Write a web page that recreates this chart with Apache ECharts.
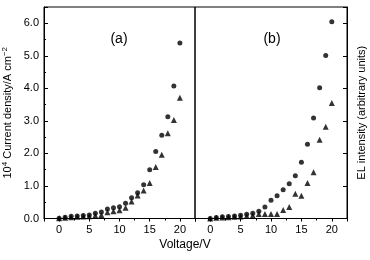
<!DOCTYPE html>
<html><head><meta charset="utf-8">
<script src="https://cdn.jsdelivr.net/npm/echarts@6/dist/echarts.min.js"></script>
<style>html,body{margin:0;padding:0;background:#fff}#c{width:370px;height:260px}</style>
</head><body><div id="c"></div>
<script>
const voltage = [0,1,2,3,4,5,6,7,8,9,10,11,12,13,14,15,16,17,18,19,20];
const aCircles = [0.01,0.04,0.07,0.08,0.09,0.11,0.16,0.20,0.29,0.33,0.36,0.47,0.64,0.79,1.04,1.50,2.06,2.56,3.13,4.07,5.39];
const aTriangles = [0.01,0.02,0.04,0.05,0.06,0.07,0.09,0.11,0.19,0.22,0.25,0.33,0.52,0.71,0.86,1.09,1.58,1.96,2.62,3.03,3.71];
const bCircles = [0.00,0.03,0.05,0.06,0.08,0.10,0.13,0.16,0.22,0.35,0.56,0.70,0.88,1.07,1.31,1.73,2.28,3.09,4.02,5.01,6.05];
const bTriangles = [0.00,0.02,0.03,0.04,0.05,0.06,0.08,0.09,0.14,0.14,0.14,0.14,0.26,0.35,0.76,0.70,1.09,1.42,2.42,2.82,3.55];
const xTickValues = [0,5,10,15,20];
const yTickValues = [0,1,2,3,4,5,6];

const FONT = 'Liberation Sans';
const pairs = ys => voltage.map((v,i)=>[v, ys[i]]);
const chart = echarts.init(document.getElementById('c'));

function xAx(gi){
  return {
    type:'value', gridIndex:gi, min:-2.5, max:22.5, splitNumber:5, minInterval:5, maxInterval:5,
    axisLine:{show:true,onZero:false,lineStyle:{color:'#000',width:1}},
    axisTick:{show:true,inside:false,length:3,lineStyle:{color:'#000'}},
    minorTick:{show:true,splitNumber:2,length:2,lineStyle:{color:'#000'}},
    splitLine:{show:false},
    axisLabel:{color:'#000',fontFamily:FONT,fontSize:11,margin:6,
      formatter:v=> xTickValues.includes(Math.round(v*100)/100) ? String(Math.round(v)) : ''},
  };
}

const option = {
  animation:false,
  backgroundColor:'#fff',
  grid:[
    {left:44, top:7, width:151, height:211.5, show:true, borderColor:'#000', borderWidth:1, containLabel:false},
    {left:195, top:7, width:152, height:211.5, show:true, borderColor:'#000', borderWidth:1, containLabel:false}
  ],
  xAxis:[xAx(0), xAx(1)],
  yAxis:[
    {type:'value', gridIndex:0, min:0, max:6.5, interval:1, position:'left',
     axisLine:{show:true,onZero:false,lineStyle:{color:'#000'}},
     axisTick:{show:true,inside:true,length:4,lineStyle:{color:'#000'}},
     minorTick:{show:true,splitNumber:2,length:2,lineStyle:{color:'#000'}},
     splitLine:{show:false},
     axisLabel:{color:'#000',fontFamily:FONT,fontSize:11,margin:5,
       formatter:v=>{const r=Math.round(v*100)/100; return yTickValues.includes(r)? r.toFixed(1):'';}},
     name:'{n|10}{s|4}{n| Current density/A cm}{s|−2}',
     nameLocation:'middle', nameGap:29, nameRotate:90,
     nameTextStyle:{fontFamily:FONT,fontSize:11,color:'#000',
       rich:{n:{fontFamily:FONT,fontSize:11,color:'#000',lineHeight:14},
             s:{fontFamily:FONT,fontSize:8,color:'#000',verticalAlign:'top',lineHeight:14}}}
    },
    {type:'value', gridIndex:1, min:0, max:6.5, interval:1, position:'right',
     axisLine:{show:true,onZero:false,lineStyle:{color:'#000'}},
     axisTick:{show:true,inside:true,length:4,lineStyle:{color:'#000'}},
     splitLine:{show:false},
     axisLabel:{show:false},
     name:'EL intensity (arbitrary units)',
     nameLocation:'middle', nameGap:9, nameRotate:90,
     nameTextStyle:{fontFamily:FONT,fontSize:11,color:'#000'}
    }
  ],
  graphic:[
    {type:'text', style:{text:'(a)', x:119, y:39, fontFamily:FONT, fontSize:14, fill:'#000', align:'center', verticalAlign:'middle'}},
    {type:'text', style:{text:'(b)', x:272, y:39, fontFamily:FONT, fontSize:14, fill:'#000', align:'center', verticalAlign:'middle'}},
    {type:'text', style:{text:'Voltage/V', x:185, y:245, fontFamily:FONT, fontSize:12, fill:'#000', align:'center', verticalAlign:'middle'}}
  ],
  series:[
    {type:'scatter', xAxisIndex:0, yAxisIndex:0, data:pairs(aCircles), symbol:'circle', symbolSize:5, itemStyle:{color:'#000'}},
    {type:'scatter', xAxisIndex:0, yAxisIndex:0, data:pairs(aTriangles), symbol:'triangle', symbolSize:6, itemStyle:{color:'#000'}},
    {type:'scatter', xAxisIndex:1, yAxisIndex:1, data:pairs(bCircles), symbol:'circle', symbolSize:5, itemStyle:{color:'#000'}},
    {type:'scatter', xAxisIndex:1, yAxisIndex:1, data:pairs(bTriangles), symbol:'triangle', symbolSize:6, itemStyle:{color:'#000'}}
  ]
};
chart.setOption(option);
</script></body></html>
